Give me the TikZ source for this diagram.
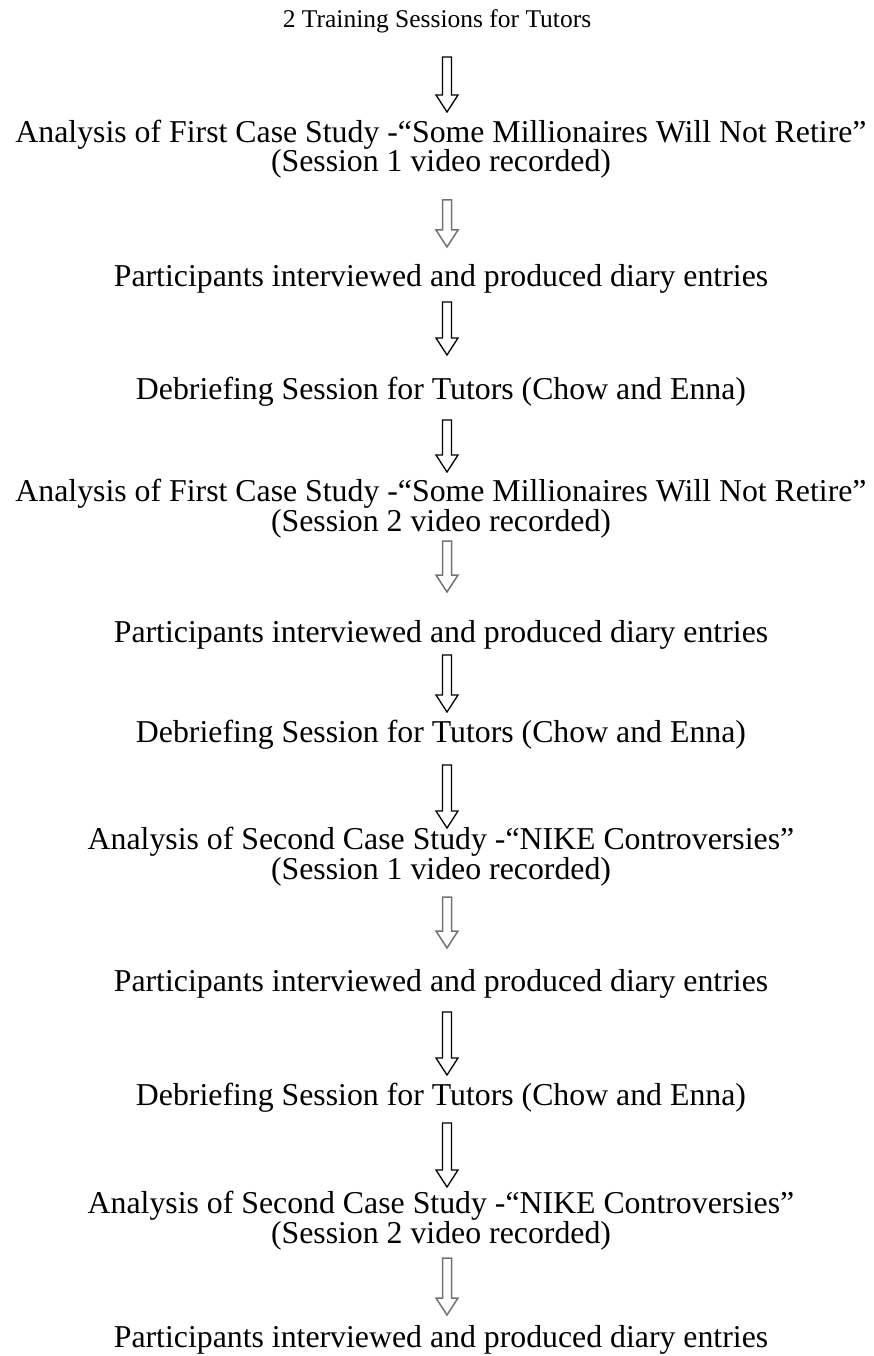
\documentclass[tikz,border=0pt]{standalone}
\usepackage{fontspec}
\setmainfont{Liberation Serif}
\usetikzlibrary{calc}
% hollow block arrow: (x:top:tip)
\def\blockarrow[#1](#2:#3:#4){\draw[#1] (#2-\shw,#3) -- (#2+\shw,#3) -- (#2+\shw,#4-\hlen) -- (#2+\hhw,#4-\hlen) -- (#2,#4) -- (#2-\hhw,#4-\hlen) -- (#2-\shw,#4-\hlen) -- cycle;}

\begin{document}
\begin{tikzpicture}[x=1pt,y=-1pt,
	step text/.style={anchor=base,inner sep=0pt,align=center,font=\fontsize{31.8}{28}\selectfont},
	dark arrow/.style={line width=1.3pt,draw=black,line join=miter},
	pale arrow/.style={line width=1.5pt,draw=black!55,line join=miter}]
				%%%%% START %%%%%
				\def\shw{4.5}
				\def\hhw{11}
				\def\hlen{17}
				\def\cx{441}
				\def\ax{447}

				\useasboundingbox (0,0) rectangle (874,1356);

				\node[anchor=base,inner sep=0pt,font=\fontsize{25.5}{28}\selectfont] (train) at (437,28) {2 Training Sessions for Tutors};

				% two-line steps: base is the second line
				\node[step text] (caseA1) at (\cx,172) {Analysis of First Case Study -“Some Millionaires Will Not Retire”\\(Session 1 video recorded)};
				\node[step text] (partA1) at (\cx,286) {Participants interviewed and produced diary entries};
				\node[step text] (debA1) at (\cx,399) {Debriefing Session for Tutors (Chow and Enna)};

				\node[step text] (caseA2) at (\cx,531) {Analysis of First Case Study -“Some Millionaires Will Not Retire”\\(Session 2 video recorded)};
				\node[step text] (partA2) at (\cx,642) {Participants interviewed and produced diary entries};
				\node[step text] (debA2) at (\cx,742) {Debriefing Session for Tutors (Chow and Enna)};

				\node[step text] (caseB1) at (\cx,879) {Analysis of Second Case Study -“NIKE Controversies”\\(Session 1 video recorded)};
				\node[step text] (partB1) at (\cx,991) {Participants interviewed and produced diary entries};
				\node[step text] (debB1) at (\cx,1105) {Debriefing Session for Tutors (Chow and Enna)};

				\node[step text] (caseB2) at (\cx,1243) {Analysis of Second Case Study -“NIKE Controversies”\\(Session 2 video recorded)};
				\node[step text] (partB2) at (\cx,1347) {Participants interviewed and produced diary entries};

				\blockarrow[dark arrow](\ax:57:112)
				\blockarrow[pale arrow](\ax:200:247)
				\blockarrow[dark arrow](\ax:302:355)
				\blockarrow[dark arrow](\ax:420:472)
				\blockarrow[pale arrow](\ax:541:592)
				\blockarrow[dark arrow](\ax:655:712)
				\blockarrow[dark arrow](\ax:765:828)
				\blockarrow[pale arrow](\ax:897:948)
				\blockarrow[dark arrow](\ax:1012:1075)
				\blockarrow[dark arrow](\ax:1123:1187)
				\blockarrow[pale arrow](\ax:1258:1315)
				%%%%% END %%%%%
\end{tikzpicture}
\end{document}
